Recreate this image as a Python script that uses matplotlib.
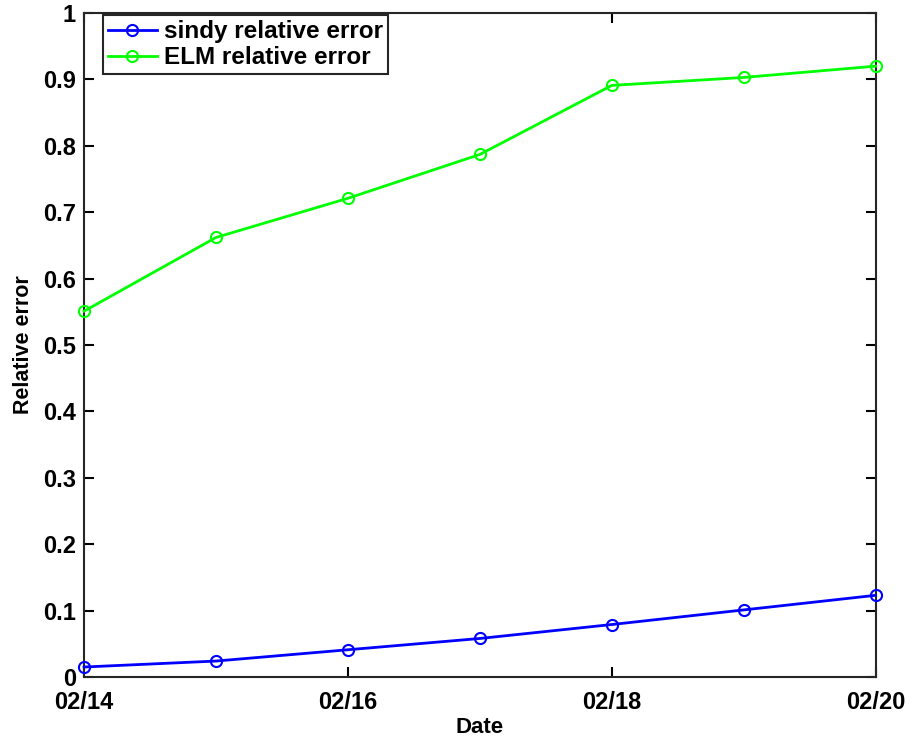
import numpy as np
import matplotlib
matplotlib.use('Agg')
import matplotlib.pyplot as plt

# --- Data ---
dates = ['02/14', '02/15', '02/16', '02/17', '02/18', '02/19', '02/20']
sindy_err = [0.015, 0.024, 0.041, 0.058, 0.079, 0.101, 0.123]
elm_err = [0.551, 0.662, 0.721, 0.787, 0.891, 0.903, 0.920]
xtick_labels = ['02/14', '02/16', '02/18', '02/20']
yticks = [0, 0.1, 0.2, 0.3, 0.4, 0.5, 0.6, 0.7, 0.8, 0.9, 1]
ytick_labels = ['0', '0.1', '0.2', '0.3', '0.4', '0.5', '0.6', '0.7', '0.8', '0.9', '1']

plt.rcParams['font.family'] = ['Liberation Sans', 'DejaVu Sans']
plt.rcParams['font.weight'] = 'bold'

fig = plt.figure(figsize=(9.14, 7.41), dpi=100)
ax = fig.add_axes([0.092, 0.0864, 0.866, 0.896])

x = np.arange(len(dates))
ax.plot(x, sindy_err, '-o', color='#0000ff', lw=2, ms=8, mfc='none', mew=1.5,
        label='sindy relative error', clip_on=False, zorder=3)
ax.plot(x, elm_err, '-o', color='#00ff00', lw=2, ms=8, mfc='none', mew=1.5,
        label='ELM relative error', clip_on=False, zorder=3)

ax.set_xlim(0, len(dates) - 1)
ax.set_ylim(0, 1)
ax.set_xticks(x[::2])
ax.set_xticklabels(xtick_labels)
ax.set_yticks(yticks)
ax.set_yticklabels(ytick_labels)
ax.tick_params(direction='in', top=True, right=True, length=7, width=1.5,
               labelsize=17)
ax.tick_params(axis='x', pad=10)
ax.tick_params(axis='y', pad=6)
for s in ax.spines.values():
    s.set_linewidth(1.5)
    s.set_color('#262626')

ax.set_xlabel('Date', fontsize=16, fontweight='bold', labelpad=2)
ax.set_ylabel('Relative error', fontsize=15.5, fontweight='bold', labelpad=6)

leg = ax.legend(loc='upper left', bbox_to_anchor=(0.021, 1.0),
                fancybox=False, edgecolor='#262626', framealpha=1,
                handlelength=2.0, borderpad=0.2, labelspacing=0.12,
                handletextpad=0.3, borderaxespad=0.1,
                prop={'weight': 'bold', 'size': 17.5})
leg.get_frame().set_linewidth(1.5)

fig.savefig('out.png', dpi=100)
